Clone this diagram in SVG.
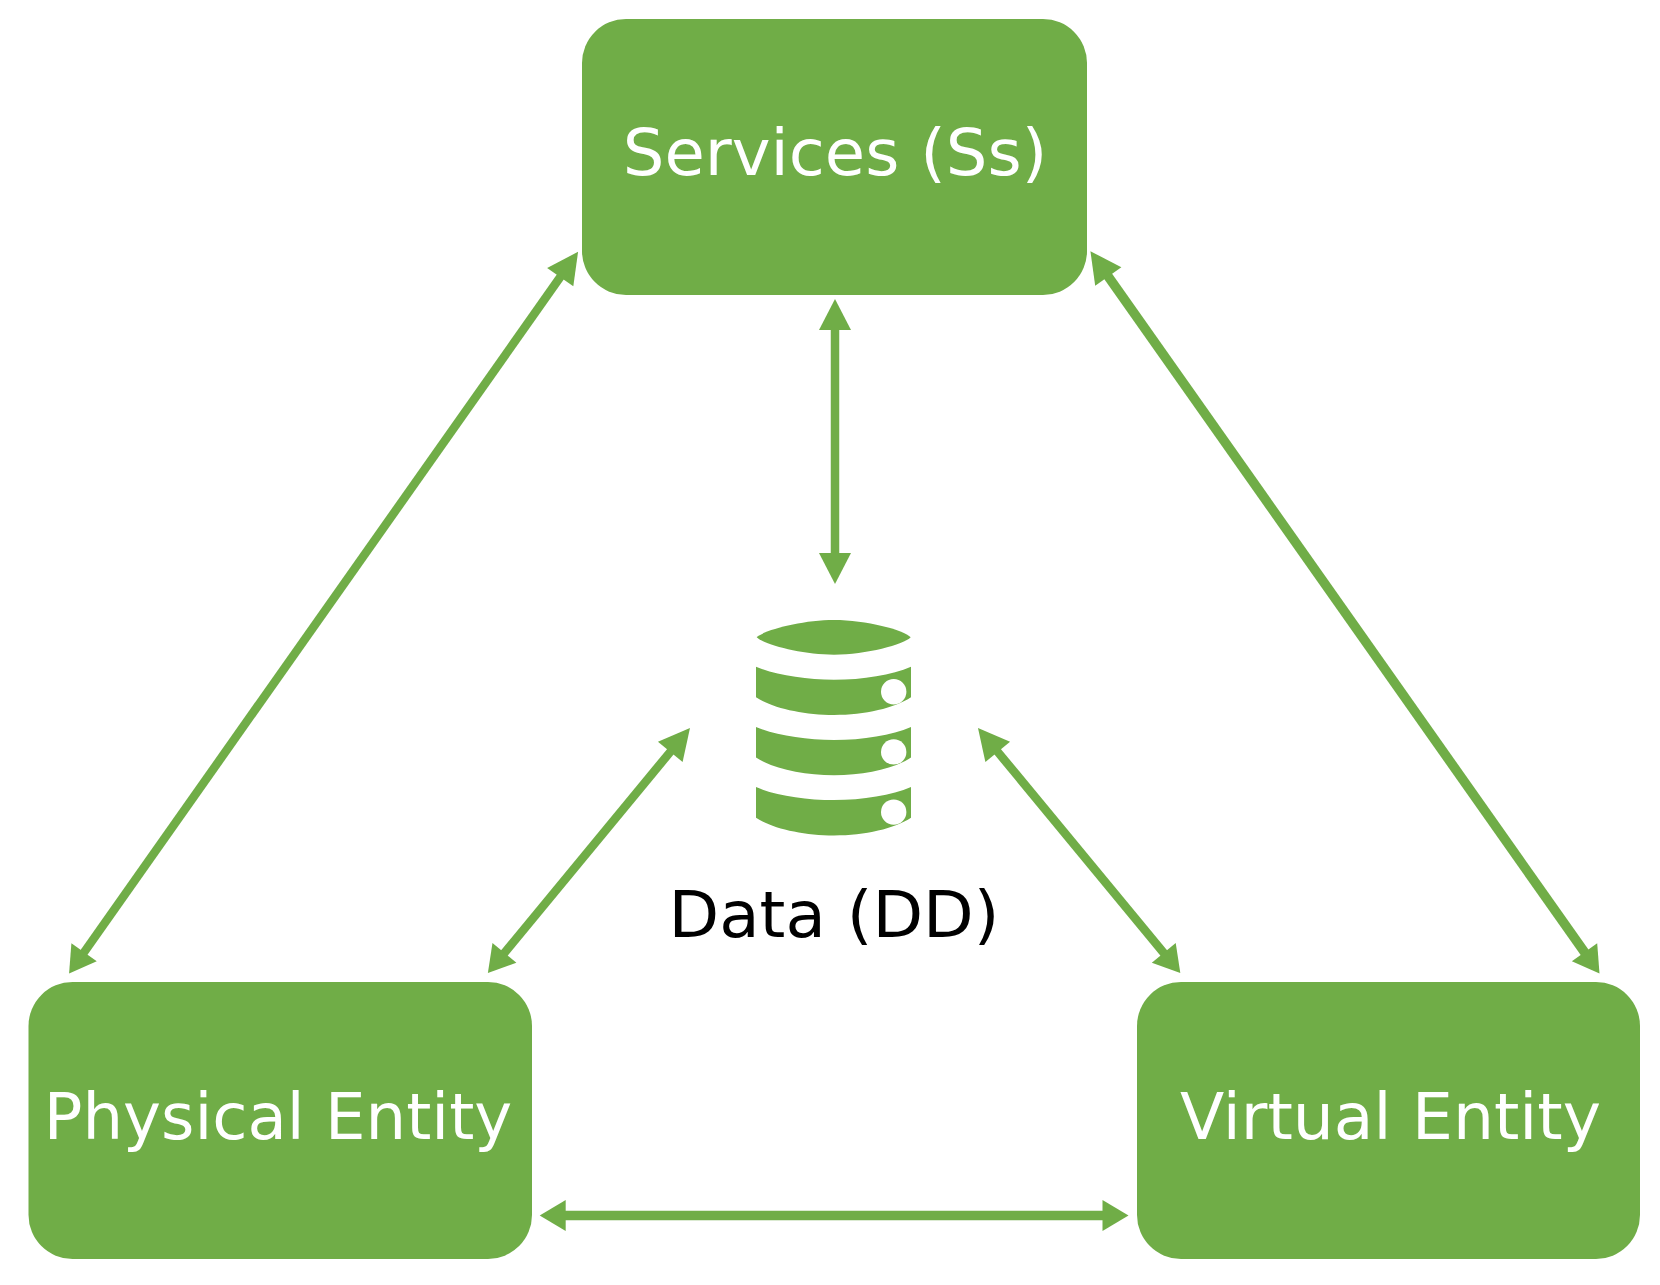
<svg xmlns="http://www.w3.org/2000/svg" width="1660" height="1285" viewBox="0 0 1660 1285">
<style>
.box{fill:#70AD47}
.lbl{font-family:"DejaVu Sans",Verdana,sans-serif;font-size:64px;fill:#fff}
.dark{fill:#000}
.conn{stroke:#70AD47;fill:none}
.w8{stroke-width:8.5}
.w9{stroke-width:9.5}
.long{marker-start:url(#short);marker-end:url(#long)}
.same{marker-start:url(#long);marker-end:url(#long)}
.flat{marker-start:url(#short);marker-end:url(#short)}
</style>
<defs>
<marker id="long" markerUnits="userSpaceOnUse" orient="auto-start-reverse" markerWidth="31" markerHeight="32" refX="1" refY="16" overflow="visible"><path d="M0,0L31,16L0,32Z" fill="#70AD47"/></marker>
<marker id="short" markerUnits="userSpaceOnUse" orient="auto-start-reverse" markerWidth="26" markerHeight="31" refX="1" refY="15.5" overflow="visible"><path d="M0,0L26,15.5L0,31Z" fill="#70AD47"/></marker>
<g id="disk">
<path class="box" d="M756,666.7C775,675 805,679.7 834,679.7C863,679.7 892,675 911,666.7V697.3C895,708 865,715 834,715C803,715 772,708 756,697.3Z"/>
<circle cx="893.7" cy="691.7" r="12.7" fill="#fff"/>
</g>
</defs>
<g id="connectors">
<line class="conn w8 long" x1="83.5" y1="953.1" x2="560.8" y2="276.3"/>
<line class="conn w9 long" x1="1585.1" y1="953.1" x2="1107.7" y2="275.7"/>
<line class="conn w8 long" x1="503.8" y1="953.7" x2="670.9" y2="751.1"/>
<line class="conn w8 long" x1="1164.4" y1="953.7" x2="997.1" y2="751.1"/>
<line class="conn w8 same" x1="835" y1="329" x2="835" y2="554"/>
<line class="conn w9 flat" x1="564.7" y1="1215.5" x2="1103.5" y2="1215.5"/>
</g>
<g id="services">
<rect class="box" x="582" y="19" width="505" height="276" rx="44" ry="44"/>
<text class="lbl" x="835" y="175" text-anchor="middle" textLength="424.5" lengthAdjust="spacingAndGlyphs">Services (Ss)</text>
</g>
<g id="physical-entity">
<rect class="box" x="28.5" y="982" width="503.5" height="277" rx="44" ry="44"/>
<text class="lbl" x="278" y="1139" text-anchor="middle" textLength="468.5" lengthAdjust="spacingAndGlyphs">Physical Entity</text>
</g>
<g id="virtual-entity">
<rect class="box" x="1137" y="982" width="503" height="277" rx="44" ry="44"/>
<text class="lbl" x="1390.5" y="1139" text-anchor="middle" textLength="421" lengthAdjust="spacingAndGlyphs">Virtual Entity</text>
</g>
<g id="data">
<path class="box" d="M756.7,637.3C764,630 802,620 834,620C866,620 904,630 910.7,637.3C904,644.6 866,654.7 834,654.7C802,654.7 764,644.6 756.7,637.3Z"/>
<use href="#disk"/>
<use href="#disk" transform="translate(0,60.2)"/>
<use href="#disk" transform="translate(0,120.4)"/>
<text class="lbl dark" x="834" y="936.7" text-anchor="middle" textLength="331" lengthAdjust="spacingAndGlyphs">Data (DD)</text>
</g>
</svg>
